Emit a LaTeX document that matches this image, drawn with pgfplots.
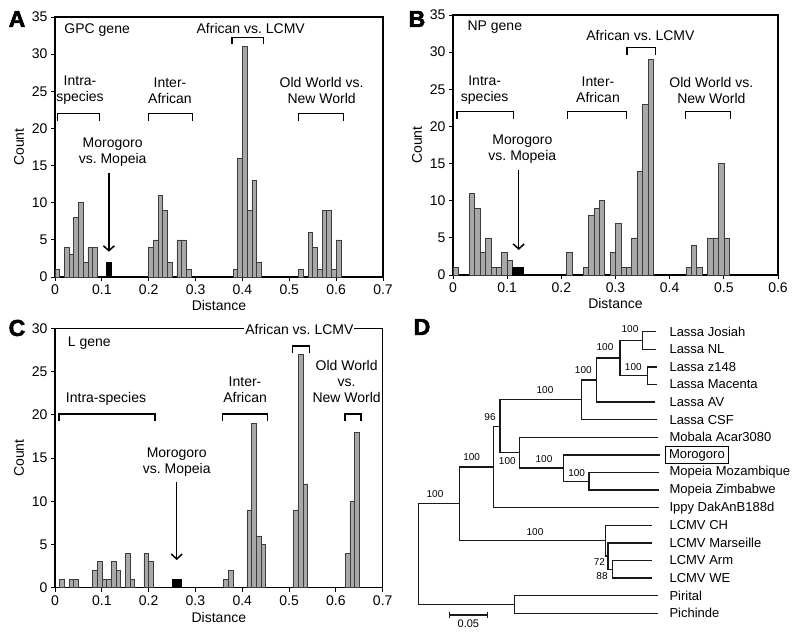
\documentclass[border=0pt]{standalone}
\usepackage{fontspec}
\setmainfont{Liberation Sans}
\newfontfamily\heavy{Liberation Sans}[BoldFeatures={FakeBold=2.5}]
\usepackage{pgfplots}
\pgfplotsset{compat=1.18}
\usetikzlibrary{arrows.meta}
\definecolor{barfill}{RGB}{168,168,168}
\definecolor{baredge}{RGB}{60,60,60}
\definecolor{treec}{RGB}{25,25,25}
\pgfplotsset{
  hist/.style={
    scale only axis, anchor=south west, clip=false,
    axis line style={line width=1.3pt},
    tick align=outside, tick pos=left, major tick length=4pt,
    tick style={line width=1pt, black},
    ymin=0, xmin=0,
    /pgf/number format/assume math mode=true,
    ticklabel style={font=\fontsize{14}{16}\selectfont},
    label style={font=\fontsize{14}{16}\selectfont},
    xlabel={Distance}, ylabel={Count},
    ylabel style={at={([xshift=-36pt]axis description cs:0,0.5)}, anchor=center},
    xlabel style={at={([yshift=-28pt]axis description cs:0.5,0)}, anchor=center},
  },
  gbar/.style={ybar, bar width=0.01, bar shift=0pt, fill=barfill, draw=baredge, line width=0.6pt},
  kbar/.style={ybar, bar width=0.01, bar shift=0pt, fill=black, draw=black, line width=0.6pt},
  tr/.style={line width=1.3pt, color=treec, no marks},
}
\tikzset{
  ann/.style={font=\fontsize{14}{16}\selectfont, align=center, inner sep=1pt},
  bs/.style={font=\fontsize{10}{12}\selectfont, inner sep=0pt},
  lf/.style={font=\fontsize{13}{15}\selectfont, inner sep=0pt, anchor=west},
  pl/.style={font=\fontsize{23}{23}\selectfont\heavy\bfseries},
}
\newcommand{\brk}[3]{\draw[line width=1.3pt] ([yshift=-7pt]axis cs:#1,#3) -- (axis cs:#1,#3) -- (axis cs:#2,#3) -- ([yshift=-7pt]axis cs:#2,#3);}
\newcommand{\arr}[3]{\draw[line width=1.3pt, -{Straight Barb[length=5pt, width=11pt, line width=1.5pt]}] (axis cs:#1,#2) -- (axis cs:#1,#3);}
\begin{document}
\begin{tikzpicture}
\useasboundingbox (0,0) rectangle (800pt,-635pt);
% Panel letters
\node[pl] at (17pt,-19pt) {A};
\node[pl] at (417pt,-19pt) {B};
\node[pl] at (17pt,-328pt) {C};
\node[pl] at (422pt,-327pt) {D};

% ---------------- Panel A ----------------
\begin{axis}[hist, at={(55pt,-277pt)}, width=328pt, height=260pt,
  xmax=0.7, ymax=35, ytick={0,5,10,15,20,25,30,35},
  xtick={0,0.1,0.2,0.3,0.4,0.5,0.6,0.7}, xticklabels={0,0.1,0.2,0.3,0.4,0.5,0.6,0.7}]
\addplot[gbar] coordinates {
 (0.005,1) (0.025,4) (0.035,3) (0.045,8) (0.055,10) (0.065,2) (0.075,4) (0.085,4)
 (0.205,4) (0.215,5) (0.225,11) (0.235,9) (0.245,2) (0.265,5) (0.275,5) (0.285,1)
 (0.385,1) (0.395,16) (0.405,31) (0.415,9) (0.425,13) (0.435,2)
 (0.525,1) (0.545,6) (0.555,4) (0.565,1) (0.575,9) (0.585,9) (0.595,1) (0.605,5)};
\addplot[kbar] coordinates {(0.115,2)};
\node[ann, anchor=west] at (axis cs:0.0177,33.25) {GPC gene};
\node[ann] at (axis cs:0.4177,33.5) {African vs.\ LCMV};
\brk{0.378}{0.4446}{32.27}
\node[ann] at (axis cs:0.0534,25.1) {Intra-\\species};
\brk{0.0049}{0.0945}{22}
\node[ann] at (axis cs:0.2454,25.1) {Inter-\\African};
\brk{0.199}{0.2939}{22}
\node[ann] at (axis cs:0.569,25.1) {Old World vs.\\New World};
\brk{0.519}{0.6153}{22}
\node[ann] at (axis cs:0.123,16.87) {Morogoro\\vs.\ Mopeia};
\arr{0.115}{14.0}{3.4}
\end{axis}

% ---------------- Panel B ----------------
\begin{axis}[hist, at={(453pt,-275pt)}, width=325pt, height=260pt,
  xmax=0.6, ymax=35, ytick={0,5,10,15,20,25,30,35},
  xtick={0,0.1,0.2,0.3,0.4,0.5,0.6}, xticklabels={0,0.1,0.2,0.3,0.4,0.5,0.6}]
\addplot[gbar] coordinates {
 (0.005,1) (0.035,11) (0.045,9) (0.055,3) (0.065,5) (0.075,1) (0.085,1) (0.095,3) (0.105,2)
 (0.215,3) (0.245,1) (0.255,8) (0.265,9) (0.275,10) (0.295,3) (0.305,7) (0.315,1) (0.325,1)
 (0.335,5) (0.345,14) (0.355,23) (0.365,29)
 (0.435,1) (0.445,4) (0.455,1) (0.475,5) (0.485,5) (0.495,15) (0.505,5)};
\addplot[kbar] coordinates {(0.115,1) (0.125,1)};
\node[ann, anchor=west] at (axis cs:0.0247,33.4) {NP gene};
\node[ann] at (axis cs:0.346,32.3) {African vs.\ LCMV};
\brk{0.3213}{0.3737}{30.6}
\node[ann] at (axis cs:0.0585,24.9) {Intra-\\species};
\brk{0.0074}{0.112}{22}
\node[ann] at (axis cs:0.2677,24.9) {Inter-\\African};
\brk{0.2112}{0.3201}{22}
\node[ann] at (axis cs:0.477,24.9) {Old World vs.\\New World};
\brk{0.4296}{0.5126}{22}
\node[ann] at (axis cs:0.128,16.96) {Morogoro\\vs.\ Mopeia};
\arr{0.1213}{14.1}{3.37}
\end{axis}

% ---------------- Panel C ----------------
\begin{axis}[hist, at={(55pt,-587.7pt)}, width=327.7pt, height=259.4pt,
  xmax=0.7, ymax=30, ytick={0,5,10,15,20,25,30},
  xtick={0,0.1,0.2,0.3,0.4,0.5,0.6,0.7}, xticklabels={0,0.1,0.2,0.3,0.4,0.5,0.6,0.7},
  xlabel style={at={([yshift=-30pt]axis description cs:0.5,0)}, anchor=center}]
\addplot[gbar] coordinates {
 (0.015,1) (0.035,1) (0.045,1) (0.085,2) (0.095,3) (0.105,1) (0.115,1) (0.125,3) (0.135,2)
 (0.155,4) (0.165,1) (0.195,4) (0.205,3)
 (0.365,1) (0.375,2) (0.415,9) (0.425,19) (0.435,6) (0.445,5)
 (0.515,9) (0.525,27) (0.535,12)
 (0.625,4) (0.635,10) (0.645,18)};
\addplot[kbar] coordinates {(0.255,1) (0.265,1)};
\node[ann, anchor=west] at (axis cs:0.025,28.27) {L gene};
\node[ann, fill=white] at (axis cs:0.522,29.9) {African vs.\ LCMV};
\brk{0.507}{0.5433}{27.96}
\node[ann] at (axis cs:0.109,21.8) {Intra-species};
\brk{0.0085}{0.2136}{20.1}
\node[ann] at (axis cs:0.406,22.87) {Inter-\\African};
\brk{0.358}{0.4536}{20.1}
\node[ann] at (axis cs:0.623,23.8) {Old World\\vs.\\New World};
\brk{0.6196}{0.6537}{20.1}
\node[ann] at (axis cs:0.26,14.5) {Morogoro\\vs.\ Mopeia};
\arr{0.26}{12.26}{3.2}
\end{axis}

% ---------------- Panel D (tree) ----------------
\begin{axis}[at={(400pt,-635pt)}, anchor=south west, scale only axis,
  width=400pt, height=325pt, xmin=0, xmax=1200, ymin=0, ymax=975,
  y dir=reverse, hide axis, clip=false]
\addplot[tr] coordinates {(768,65) (728,65) (728,118) (768,118)};
\addplot[tr] coordinates {(770,171) (742,171) (742,223) (770,223)};
\addplot[tr] coordinates {(728,91.5) (660,91.5) (660,197) (742,197)};
\addplot[tr] coordinates {(660,144) (590,144) (590,276) (765,276)};
\addplot[tr] coordinates {(590,210) (545,210) (545,329) (770,329)};
\addplot[tr] coordinates {(778,487) (567,487) (567,540) (778,540)};
\addplot[tr] coordinates {(780,435) (490,435) (490,513.5) (567,513.5)};
\addplot[tr] coordinates {(775,382) (358,382) (358,474) (490,474)};
\addplot[tr] coordinates {(545,269.5) (300,269.5) (300,428) (358,428)};
\addplot[tr] coordinates {(300,349) (280,349) (280,593) (778,593)};
\addplot[tr] coordinates {(755,751) (638,751) (638,804) (755,804)};
\addplot[tr] coordinates {(755,699) (624,699) (624,777.5) (638,777.5)};
\addplot[tr] coordinates {(755,646) (617,646) (617,738) (624,738)};
\addplot[tr] coordinates {(280,471) (178,471) (178,692) (617,692)};
\addplot[tr] coordinates {(775,857) (343,857) (343,910) (775,910)};
\addplot[tr] coordinates {(178,581.5) (55,581.5) (55,883.5) (343,883.5)};
% scale bar
\addplot[tr] coordinates {(148,915) (262,915)};
\addplot[tr] coordinates {(148,905) (148,925)};
\addplot[tr] coordinates {(262,905) (262,925)};
\node[font=\fontsize{11}{13}\selectfont] at (axis cs:205,940) {0.05};
% leaf labels
\node[lf] at (axis cs:808,65) {Lassa Josiah};
\node[lf] at (axis cs:808,118) {Lassa NL};
\node[lf] at (axis cs:808,171) {Lassa z148};
\node[lf] at (axis cs:808,223) {Lassa Macenta};
\node[lf] at (axis cs:808,276) {Lassa AV};
\node[lf] at (axis cs:808,329) {Lassa CSF};
\node[lf] at (axis cs:808,382) {Mobala Acar3080};
\node[lf, draw, line width=1.2pt, inner xsep=3.5pt, inner ysep=2.5pt] at (axis cs:795,435) {Morogoro};
\node[lf] at (axis cs:808,487) {Mopeia Mozambique};
\node[lf] at (axis cs:808,540) {Mopeia Zimbabwe};
\node[lf] at (axis cs:808,593) {Ippy DakAnB188d};
\node[lf] at (axis cs:808,646) {LCMV CH};
\node[lf] at (axis cs:808,699) {LCMV Marseille};
\node[lf] at (axis cs:808,751) {LCMV Arm};
\node[lf] at (axis cs:808,804) {LCMV WE};
\node[lf] at (axis cs:808,857) {Pirital};
\node[lf] at (axis cs:808,910) {Pichinde};
% bootstrap values
\node[bs] at (axis cs:690,58) {100};
\node[bs] at (axis cs:615,112) {100};
\node[bs] at (axis cs:700,172) {100};
\node[bs] at (axis cs:550,180) {100};
\node[bs] at (axis cs:435,240) {100};
\node[bs] at (axis cs:270,320) {96};
\node[bs] at (axis cs:322,452) {100};
\node[bs] at (axis cs:432,448) {100};
\node[bs] at (axis cs:530,490) {100};
\node[bs] at (axis cs:215,440) {100};
\node[bs] at (axis cs:405,667) {100};
\node[bs] at (axis cs:105,553) {100};
\node[bs] at (axis cs:598,755) {72};
\node[bs] at (axis cs:606,797) {88};
\end{axis}
\end{tikzpicture}
\end{document}
